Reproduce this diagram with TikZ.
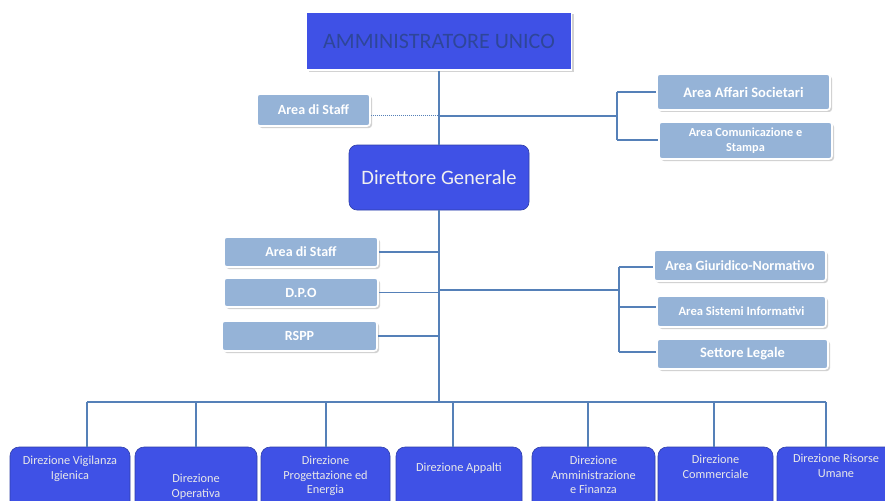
\documentclass[tikz,border=0pt]{standalone}
\usepackage{fontspec}
\setmainfont{Carlito}
\usetikzlibrary{shadows,calc}
\definecolor{royal}{HTML}{3F51E6}
\definecolor{royaldark}{HTML}{2F3FA8}
\definecolor{lightbox}{HTML}{95B3D7}
\definecolor{linec}{HTML}{5580B8}
\definecolor{autext}{HTML}{2E4699}
\begin{document}
\begin{tikzpicture}[x=1pt,y=-1pt,
  lbox/.style={draw=white,line width=1.6pt,fill=lightbox,rounded corners=3pt,
    drop shadow={shadow xshift=2pt,shadow yshift=-2pt,opacity=0.35},
    text=white,font=\bfseries,align=center,inner sep=1pt},
  bbox/.style={draw=royaldark,line width=0.6pt,fill=royal,rounded corners=9pt},
  btext/.style={text=white!82!gray,font=\fontsize{12.3}{14.8}\selectfont,align=center,anchor=north,inner sep=0pt},
  conn/.style={draw=linec,line width=1.6pt}]
\clip (0,0) rectangle (885,500);
\fill[white] (0,0) rectangle (885,500);
% top
\node[draw=white,line width=1.6pt,fill=royal,minimum width=265,minimum height=58,
  drop shadow={shadow xshift=2.5pt,shadow yshift=-2.5pt,opacity=0.35},
  text=autext,font=\fontsize{22}{24}\selectfont] (au) at (439,41) {AMMINISTRATORE UNICO};
\node[bbox,rounded corners=8pt,minimum width=180,minimum height=65,text=white!88!gray,
  font=\fontsize{20.5}{23}\selectfont] (dg) at (439,177.5) {Direttore Generale};
\node[lbox,minimum width=113,minimum height=32,font=\bfseries\fontsize{14}{16}\selectfont] (s1) at (313.5,110) {Area di Staff};
\node[lbox,minimum width=173,minimum height=36,font=\bfseries\fontsize{14.5}{16}\selectfont] (aas) at (743.5,92) {Area Affari Societari};
\node[lbox,minimum width=173,minimum height=37,font=\bfseries\fontsize{12.3}{15}\selectfont] (acs) at (745.5,140.5) {Area Comunicazione e\\Stampa};
\node[lbox,minimum width=154,minimum height=30,font=\bfseries\fontsize{14}{16}\selectfont] (s2) at (301,252) {Area di Staff};
\node[lbox,minimum width=154,minimum height=29,font=\bfseries\fontsize{14}{16}\selectfont] (dpo) at (301,292.5) {D.P.O};
\node[lbox,minimum width=155,minimum height=30,font=\bfseries\fontsize{14}{16}\selectfont] (rspp) at (299.5,336) {RSPP};
\node[lbox,minimum width=172,minimum height=31,font=\bfseries\fontsize{14}{16}\selectfont] (agn) at (740,265.5) {Area Giuridico-Normativo};
\node[lbox,minimum width=169,minimum height=31,font=\bfseries\fontsize{12.6}{14}\selectfont] (asi) at (741.5,311.5) {Area Sistemi Informativi};
\node[lbox,minimum width=171,minimum height=30,font=\bfseries\fontsize{14.5}{16}\selectfont] (sl) at (742.5,354) {Settore Legale};
% bottom boxes
\node[bbox,minimum width=120,minimum height=90] (b1) at (70,492) {};
\node[bbox,minimum width=122,minimum height=90] (b2) at (196,492) {};
\node[bbox,minimum width=129,minimum height=90] (b3) at (325.5,492) {};
\node[bbox,minimum width=126,minimum height=90] (b4) at (459,492) {};
\node[bbox,minimum width=123,minimum height=90] (b5) at (593.5,492) {};
\node[bbox,minimum width=115,minimum height=90] (b6) at (715.5,492) {};
\node[bbox,minimum width=118,minimum height=90] (b7) at (836,492) {};
\node[btext] (t1) at ($(b1.north)+(0,9)$) {Direzione Vigilanza\\Igienica};
\node[btext] (t2) at ($(b2.north)+(0,27)$) {Direzione\\Operativa};
\node[btext] (t3) at ($(b3.north)+(0,9)$) {Direzione\\Progettazione ed\\Energia};
\node[btext] (t4) at ($(b4.north)+(0,16)$) {Direzione Appalti};
\node[btext] (t5) at ($(b5.north)+(0,9)$) {Direzione\\Amministrazione\\e Finanza};
\node[btext] (t6) at ($(b6.north)+(0,8)$) {Direzione\\Commerciale};
\node[btext] (t7) at ($(b7.north)+(0,7)$) {Direzione Risorse\\Umane};
% coordinates
\coordinate (jtop) at (439,116);
\coordinate (rtop) at (617,116);
\coordinate (rtopa) at (617,92);
\coordinate (rtopb) at (617,140);
\coordinate (jmid) at (439,290);
\coordinate (rmid) at (619,290);
\coordinate (rma) at (619,267);
\coordinate (rmb) at (619,307);
\coordinate (rmc) at (619,352);
\coordinate (bus) at (439,402);
\coordinate (bus1) at (87,402);
\coordinate (bus2) at (196,402);
\coordinate (bus3) at (326,402);
\coordinate (bus4) at (453,402);
\coordinate (bus5) at (588,402);
\coordinate (bus6) at (714,402);
\coordinate (bus7) at (826,402);
% connectors
\draw[conn] (au.south) -- (dg.north);
\draw[conn] (dg.south) -- (bus);
\draw[draw=linec,line width=1pt,densely dotted] (s1.east |- jtop) -- (jtop);
\draw[conn] (jtop) -- (rtop);
\draw[conn] (rtopa) -- (rtopb);
\draw[conn] (rtopa) -- (aas.west |- rtopa);
\draw[conn] (rtopb) -- (acs.west |- rtopb);
\draw[conn] (s2.east) -- (s2.east -| bus);
\draw[conn] (dpo.east) -- (dpo.east -| bus);
\draw[conn] (rspp.east) -- (rspp.east -| bus);
\draw[conn] (jmid) -- (rmid);
\draw[conn] (rma) -- (rmc);
\draw[conn] (rma) -- (agn.west |- rma);
\draw[conn] (rmb) -- (asi.west |- rmb);
\draw[conn] (rmc) -- (sl.west |- rmc);
\draw[conn] (bus1) -- (bus7);
\foreach \i in {1,...,7} {\draw[conn] (bus\i) -- (bus\i |- b\i.north);}
\end{tikzpicture}
\end{document}
